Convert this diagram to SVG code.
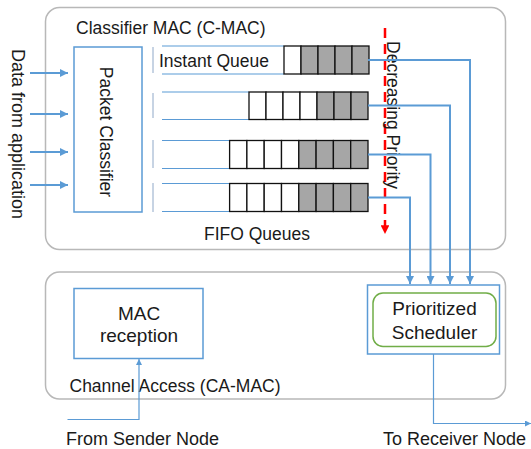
<svg xmlns="http://www.w3.org/2000/svg" width="531" height="449" viewBox="0 0 531 449">
<style>
.t{font-family:"Liberation Sans",Arial,sans-serif;fill:#1a1a1a}
.frame{fill:#fff;stroke:#b8b8b8;stroke-width:1.5}
.bbox{fill:#fff;stroke:#5b9bd5;stroke-width:1.5}
.w{fill:#fff;stroke:#111;stroke-width:1.3}
.g{fill:#a6a6a6;stroke:#111;stroke-width:1.3}
.ql{stroke:#5b9bd5;stroke-width:1.2;fill:none}
.tick{stroke:#8fa8c8;stroke-width:1;fill:none}
.thick{stroke:#5b9bd5;stroke-width:2;fill:none}
.thin{stroke:#5b9bd5;stroke-width:1.2;fill:none}
</style>
<defs>
<marker id="ah" viewBox="0 0 10 10" refX="10" refY="5" markerWidth="4" markerHeight="4" orient="auto" markerUnits="strokeWidth">
<path d="M0,0 L10,5 L0,10 z" fill="#5b9bd5"/>
</marker>
<marker id="ahs" viewBox="0 0 10 10" refX="10" refY="5" markerWidth="5" markerHeight="5" orient="auto" markerUnits="strokeWidth">
<path d="M0,0 L10,5 L0,10 z" fill="#5b9bd5"/>
</marker>
<marker id="ahr" viewBox="0 0 10 10" refX="10" refY="5" markerWidth="3.5" markerHeight="3.5" orient="auto" markerUnits="strokeWidth">
<path d="M0,0 L10,5 L0,10 z" fill="#ff0000"/>
</marker>
</defs>

<g id="cmac">
<rect class="frame" x="45.5" y="7.5" width="460" height="242" rx="14"/>
<text class="t" x="76" y="34" font-size="17.5">Classifier MAC (C-MAC)</text>
<text class="t" x="204" y="240" font-size="17.5">FIFO Queues</text>
</g>

<g id="camac">
<rect class="frame" x="45.5" y="272" width="460" height="127" rx="14"/>
<text class="t" x="69.5" y="392" font-size="17.5">Channel Access (CA-MAC)</text>
</g>

<g id="data-label">
<text class="t" font-size="18" text-anchor="middle" transform="translate(12,134) rotate(90)">Data from application</text>
</g>

<g id="packet-classifier">
<rect class="bbox" x="74" y="47" width="68" height="165"/>
<text class="t" font-size="17.5" text-anchor="middle" transform="translate(100,132) rotate(90)">Packet Classifier</text>
</g>

<g id="queue1">
<line class="tick" x1="153" y1="47" x2="153" y2="73"/>
<line class="ql" x1="162" y1="46" x2="284" y2="46"/>
<line class="ql" x1="162" y1="74" x2="284" y2="74"/>
<text class="t" x="159" y="67" font-size="17.5">Instant Queue</text>
<rect class="w" x="284" y="46" width="17" height="28"/>
<rect class="g" x="301" y="46" width="17" height="28"/>
<rect class="g" x="318" y="46" width="17" height="28"/>
<rect class="g" x="335" y="46" width="17" height="28"/>
<rect class="g" x="352" y="46" width="17" height="28"/>
</g>

<g id="queue2">
<line class="tick" x1="153" y1="93" x2="153" y2="118"/>
<line class="ql" x1="162" y1="92" x2="249" y2="92"/>
<line class="ql" x1="162" y1="119.5" x2="249" y2="119.5"/>
<rect class="w" x="249" y="92" width="17" height="27.5"/>
<rect class="w" x="266" y="92" width="17" height="27.5"/>
<rect class="w" x="283" y="92" width="17" height="27.5"/>
<rect class="w" x="300" y="92" width="17" height="27.5"/>
<rect class="g" x="317" y="92" width="17" height="27.5"/>
<rect class="g" x="334" y="92" width="17" height="27.5"/>
<rect class="g" x="351" y="92" width="17" height="27.5"/>
</g>

<g id="queue3">
<line class="tick" x1="153" y1="140" x2="153" y2="168"/>
<line class="ql" x1="162" y1="140.5" x2="230" y2="140.5"/>
<line class="ql" x1="162" y1="168.5" x2="230" y2="168.5"/>
<rect class="w" x="229.6" y="140.5" width="17.3" height="28"/>
<rect class="w" x="246.9" y="140.5" width="17.3" height="28"/>
<rect class="w" x="264.2" y="140.5" width="17.3" height="28"/>
<rect class="w" x="281.5" y="140.5" width="17.3" height="28"/>
<rect class="g" x="298.8" y="140.5" width="17.3" height="28"/>
<rect class="g" x="316.1" y="140.5" width="17.3" height="28"/>
<rect class="g" x="333.4" y="140.5" width="17.3" height="28"/>
<rect class="g" x="350.7" y="140.5" width="17.3" height="28"/>
</g>

<g id="queue4">
<line class="tick" x1="153" y1="183" x2="153" y2="212"/>
<line class="ql" x1="162" y1="183.5" x2="230" y2="183.5"/>
<line class="ql" x1="162" y1="211.5" x2="230" y2="211.5"/>
<rect class="w" x="229.6" y="183.5" width="17.3" height="28"/>
<rect class="w" x="246.9" y="183.5" width="17.3" height="28"/>
<rect class="w" x="264.2" y="183.5" width="17.3" height="28"/>
<rect class="w" x="281.5" y="183.5" width="17.3" height="28"/>
<rect class="g" x="298.8" y="183.5" width="17.3" height="28"/>
<rect class="g" x="316.1" y="183.5" width="17.3" height="28"/>
<rect class="g" x="333.4" y="183.5" width="17.3" height="28"/>
<rect class="g" x="350.7" y="183.5" width="17.3" height="28"/>
</g>

<g id="mac-reception">
<rect class="bbox" x="74" y="288.5" width="129" height="70"/>
<text class="t" x="139" y="319.5" font-size="19" text-anchor="middle">MAC</text>
<text class="t" x="139" y="342" font-size="19" text-anchor="middle">reception</text>
</g>

<g id="scheduler">
<rect class="bbox" x="367.5" y="285" width="132" height="69"/>
<rect x="373" y="293" width="123" height="53.5" rx="10" fill="#fff" stroke="#70ad47" stroke-width="1.5"/>
<text class="t" x="434.5" y="314.5" font-size="19" text-anchor="middle">Prioritized</text>
<text class="t" x="434.5" y="338.5" font-size="19" text-anchor="middle">Scheduler</text>
</g>

<g id="priority">
<line x1="385" y1="28" x2="385" y2="234" stroke="#ff0000" stroke-width="2.5" stroke-dasharray="10,6" marker-end="url(#ahr)"/>
<text class="t" font-size="17.5" text-anchor="middle" transform="translate(387,115) rotate(90)">Decreasing Priority</text>
</g>

<g id="labels">
<text class="t" x="66" y="445" font-size="18">From Sender Node</text>
<text class="t" x="383" y="445" font-size="18">To Receiver Node</text>
</g>

<g id="connectors">
<line class="thick" x1="30" y1="73" x2="68" y2="73" marker-end="url(#ah)"/>
<line class="thick" x1="30" y1="114" x2="68" y2="114" marker-end="url(#ah)"/>
<line class="thick" x1="30" y1="152" x2="68" y2="152" marker-end="url(#ah)"/>
<line class="thick" x1="30" y1="185" x2="68" y2="185" marker-end="url(#ah)"/>
<path class="thick" d="M368,60 H470 V284" marker-end="url(#ah)"/>
<path class="thick" d="M368,105.5 H450 V284" marker-end="url(#ah)"/>
<path class="thick" d="M368,154.5 H430.5 V284" marker-end="url(#ah)"/>
<path class="thick" d="M368,197.5 H410 V284" marker-end="url(#ah)"/>
<path class="thin" d="M67.5,419.5 H139 V359" marker-end="url(#ahs)"/>
<path class="thin" d="M433.5,354 V423.5 H531" marker-end="url(#ahs)"/>
</g>
</svg>
